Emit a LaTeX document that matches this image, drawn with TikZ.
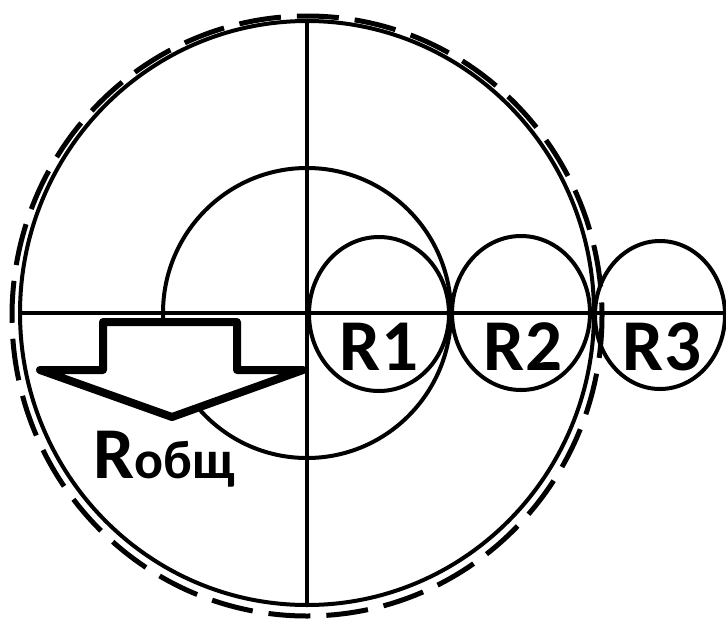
\documentclass[tikz,border=0pt]{standalone}
\usepackage{fontspec}
\setmainfont{Carlito}
\usepackage{tikz}
\tikzset{
  linea/.style={line width=4pt},
  punteado/.style={line width=5pt,dash pattern=on 42pt off 16pt},
  flecha/.style={line width=8pt,line join=round,fill=white},
  etiqueta/.style={font=\bfseries\fontsize{73}{80}\selectfont,inner sep=0pt}
}

\begin{document}
\begin{tikzpicture}[x=1pt,y=-1pt]
\useasboundingbox (0,0) rectangle (726,619);
\coordinate (O) at (307,313);
% circles
\draw[punteado] (307,316) ellipse [x radius=295,y radius=300];
\draw[linea] (O) ellipse [x radius=287,y radius=292];
\draw[linea] (O) ellipse [x radius=144,y radius=145];
\draw[linea] (379,314) ellipse [x radius=70,y radius=77];
\draw[linea] (521,313) ellipse [x radius=69,y radius=77];
\draw[linea] (660,315) ellipse [x radius=65,y radius=74];
% arrow
\draw[flecha] (103,322) -- (237,322) -- (237,370) -- (303,370) -- (172,417)
  -- (40,370) -- (103,370) -- cycle;
% axes
\coordinate (top) at (307,23);
\coordinate (bot) at (307,607);
\coordinate (lft) at (21,313);
\coordinate (rgt) at (726,313);
\draw[linea] (top) -- (bot);
\draw[linea] (lft) -- (rgt);
% labels
\node[etiqueta] (r1) at (379,347) {R1};
\node[etiqueta] (r2) at (523,347) {R2};
\node[etiqueta] (r3) at (662,347) {R3};
\node[etiqueta,anchor=base west] (rtot) at (93,478) {R{\fontsize{54}{60}\selectfont общ}};
\end{tikzpicture}
\end{document}
